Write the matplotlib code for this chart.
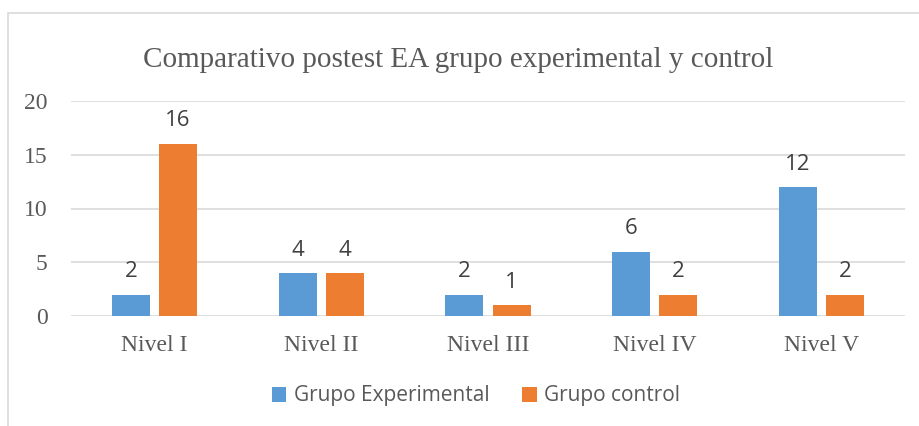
import numpy as np
import matplotlib.pyplot as plt
from matplotlib.patches import Rectangle

categories = ['Nivel I', 'Nivel II', 'Nivel III', 'Nivel IV', 'Nivel V']
experimental = [2, 4, 2, 6, 12]
control = [16, 4, 1, 2, 2]
series_names = ['Grupo Experimental', 'Grupo control']
yticks = [0, 5, 10, 15, 20]

BLUE = '#5B9BD5'
ORANGE = '#ED7D31'

fig = plt.figure(figsize=(9.2, 4.26), dpi=100)
fig.patch.set_facecolor('white')

# chart border (light gray frame like Excel)
fig.patches.append(Rectangle((8 / 920, -0.05), 1.0, (426 - 13) / 426 + 0.05,
                             transform=fig.transFigure, fill=False,
                             edgecolor='#D9D9D9', linewidth=1.2))

ax = fig.add_axes([71 / 920, 110 / 426, 834 / 920, 215 / 426])

x = np.arange(len(categories))
width = 0.228
offset = 0.141
b1 = ax.bar(x - offset, experimental, width, color=BLUE, label=series_names[0])
b2 = ax.bar(x + offset, control, width, color=ORANGE, label=series_names[1])

for bars in (b1, b2):
    for r in bars:
        ax.annotate('%d' % r.get_height(), (r.get_x() + r.get_width() / 2, r.get_height()),
                    xytext=(0, 9), textcoords='offset points', ha='center', va='bottom',
                    fontsize=16, color='#404040', family='Open Sans')

ax.set_xlim(-0.5, len(categories) - 0.5)
ax.set_ylim(0, 20)
ax.set_yticks(yticks)
ax.set_yticklabels([str(t) for t in yticks], family='Liberation Serif', fontsize=17, color='#595959')
ax.set_xticks(x)
ax.set_xticklabels(categories, family='Liberation Serif', fontsize=17, color='#595959')
ax.tick_params(length=0)
ax.tick_params(axis='y', pad=17)
ax.tick_params(axis='x', pad=14)
ax.yaxis.grid(True, color='#D9D9D9', linewidth=1.2)
ax.set_axisbelow(True)
for s in ax.spines.values():
    s.set_visible(False)

fig.text(458 / 920, 1 - 60 / 426, 'Comparativo postest EA grupo experimental y control',
         ha='center', va='center', family='Liberation Serif', fontsize=21, color='#595959')

leg = fig.legend(handles=[b1, b2], labels=series_names, loc='center',
                 bbox_to_anchor=(476 / 920, 1 - 396 / 426), ncol=2, frameon=False,
                 prop={'family': 'Open Sans', 'size': 15}, handlelength=0.7, handleheight=0.7,
                 columnspacing=1.6, handletextpad=0.35)
for t in leg.get_texts():
    t.set_color('#595959')

fig.savefig('out.png', dpi=100)
